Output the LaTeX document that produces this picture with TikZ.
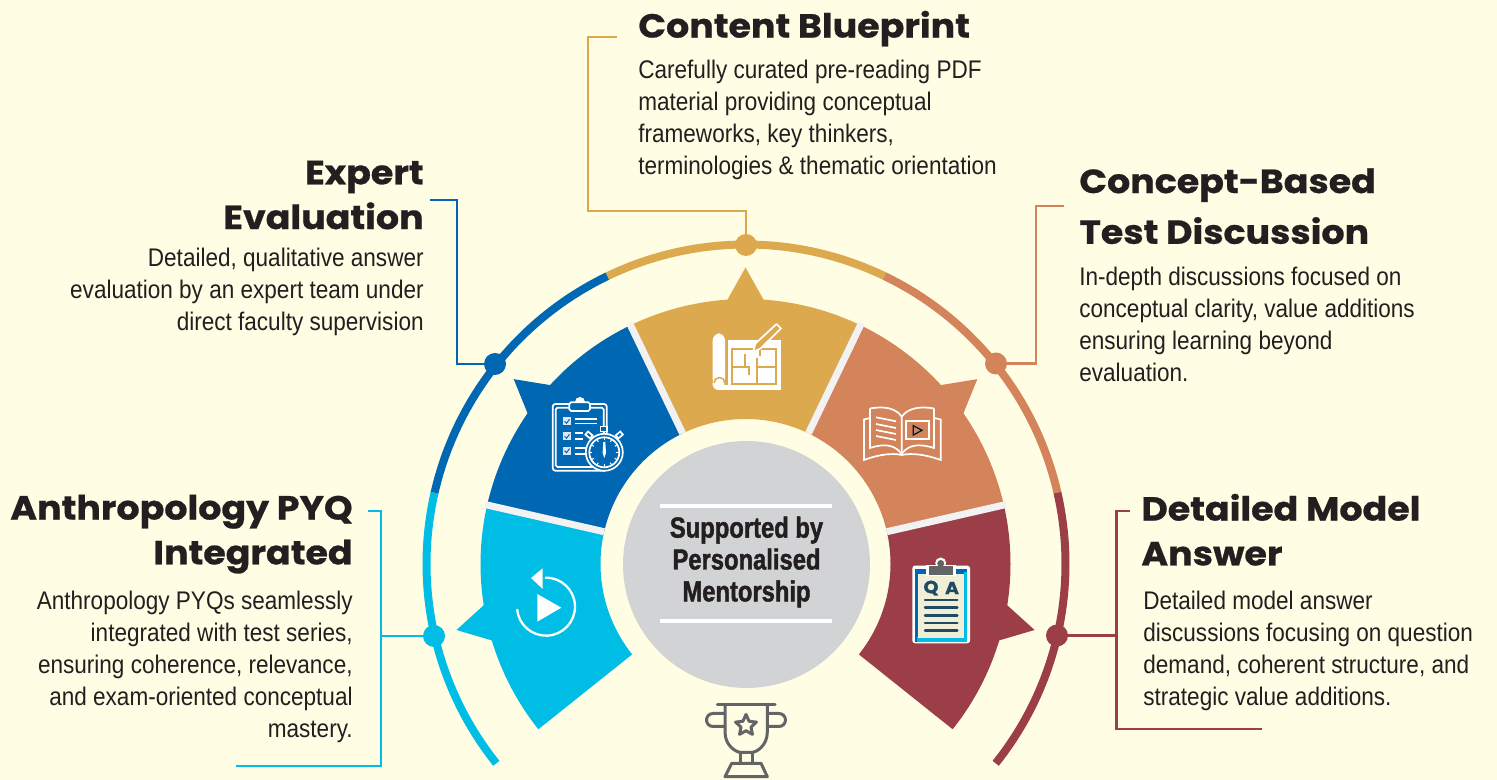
\documentclass[tikz,border=0pt]{standalone}
\usepackage{fontspec}
\setmainfont{Liberation Sans}[FakeStretch=0.885]
\newfontfamily\headfont{Poppins}[FakeStretch=1.09, BoldFeatures={FakeBold=0.7}]
\newfontfamily\discfont{Liberation Sans}[FakeStretch=0.82, BoldFeatures={FakeBold=1.5}]
\usetikzlibrary{positioning, shapes.geometric}
\definecolor{bgcream}{HTML}{FFFDE4}
\definecolor{ringcyan}{HTML}{00BDE6}
\definecolor{ringblue}{HTML}{0067B3}
\definecolor{ringgold}{HTML}{DDA94F}
\definecolor{ringorange}{HTML}{D4845B}
\definecolor{ringmaroon}{HTML}{9B3E48}
\definecolor{inktext}{HTML}{231F20}
\definecolor{discgrey}{HTML}{D1D3D4}
\definecolor{cupgrey}{HTML}{636466}
\definecolor{navyqa}{HTML}{1F4A63}
\tikzset{
    pxgrid/.style={shift={(0,780)},yscale=-1},
    heading/.style={font=\headfont\bfseries\fontsize{19}{25.5}\selectfont, text=inktext, inner sep=0pt},
    body/.style={font=\fontsize{14.5}{18.14}\selectfont, text=inktext, inner sep=0pt},
    dot/.style={circle, fill=#1, minimum size=0.44cm, inner sep=0pt},
    leader/.style={line width=0.05cm, draw=#1},
    icon_line/.style={line width=0.034cm, draw=white}
}
\begin{document}
\begin{tikzpicture}[x=0.02cm, y=0.02cm]
    \useasboundingbox (0,0) rectangle (1497,780);
    \fill[bgcream] (0,0) rectangle (1497,780);

    % --- Outer ring ---
    \begin{scope}[shift={(746,216)}]
        \foreach \from/\to/\col in {218.6/167.1/ringcyan, 167.1/115.7/ringblue, 115.7/64.3/ringgold, 64.3/12.9/ringorange, 12.9/-38.6/ringmaroon}
            \draw[line width=0.16cm, draw=\col] (\from:319.5) arc (\from:\to:319.5);
    \end{scope}

    % --- The seven-part petals ---
    \begin{scope}[shift={(745.5,216)}]
        \foreach \ang/\col in {192.86/ringcyan, 141.43/ringblue, 90/ringgold, 38.57/ringorange, -12.86/ringmaroon}{
            \pgfmathsetmacro\lo{\ang-25.72}
            \pgfmathsetmacro\hi{\ang+25.72}
            \pgfmathsetmacro\bl{\ang-3.9}
            \pgfmathsetmacro\br{\ang+3.9}
            \fill[\col] (\lo:145) -- (\lo:265) arc (\lo:\bl:265) -- (\ang:296.5) -- (\br:265) arc (\br:\hi:265) -- (\hi:145) arc (\hi:\lo:145) -- cycle;
        }
        \foreach \ang in {167.14, 115.71, 64.29, 12.86}
            \draw[line width=0.14cm, draw=black!5] (\ang:145) -- (\ang:267);
    \end{scope}

    \begin{scope}[pxgrid]
        % --- Centre disc ---
        \node (mentor) [circle, fill=discgrey, minimum size=4.94cm, inner sep=0pt] at (746.5,564.5) {};
        \draw[line width=0.08cm, white] (660,506) -- (832,506);
        \draw[line width=0.08cm, white] (660,621) -- (832,621);
        \node (mentor_text) [font=\discfont\bfseries\fontsize{16.5}{18.14}\selectfont, text=inktext, align=center, inner sep=0pt] at (746.5,562) {Supported by\\Personalised\\Mentorship};

        % --- Dots on the ring ---
        \node (dot_cyan)   [dot=ringcyan]   at (434,636) {};
        \node (dot_blue)   [dot=ringblue]   at (495,364) {};
        \node (dot_gold)   [dot=ringgold]   at (746,245) {};
        \node (dot_orange) [dot=ringorange] at (996,363.5) {};
        \node (dot_maroon) [dot=ringmaroon] at (1057,635.5) {};

        % --- Leaders ---
        \coordinate (cyan_a) at (368,511);
        \coordinate (cyan_b) at (236,766);
        \draw[leader=ringcyan] (cyan_a) -- (381,511) -- (381,766) -- (cyan_b);
        \draw[leader=ringcyan] (dot_cyan) -- (381,636);
        \coordinate (blue_a) at (430,200);
        \draw[leader=ringblue] (blue_a) -- (457,200) -- (457,364) -- (dot_blue);
        \coordinate (gold_a) at (617,37);
        \draw[leader=ringgold] (gold_a) -- (588,37) -- (588,211) -- (746,211) -- (dot_gold);
        \coordinate (orange_a) at (1064,206);
        \draw[leader=ringorange] (orange_a) -- (1036,206) -- (1036,363.5) -- (dot_orange);
        \coordinate (maroon_a) at (1130,511);
        \coordinate (maroon_b) at (1262,729);
        \draw[leader=ringmaroon] (maroon_a) -- (1116.5,511) -- (1116.5,729) -- (maroon_b);
        \draw[leader=ringmaroon] (dot_maroon) -- (1116.5,635.5);

        % --- Headings and descriptions ---
        \node (pyq_head) [heading, anchor=north east, align=right] at (353,494.5) {Anthropology PYQ\\Integrated};
        \node (pyq_body) [body, anchor=north east, align=right] at (353,591) {Anthropology PYQs seamlessly\\integrated with test series,\\ensuring coherence, relevance,\\and exam-oriented conceptual\\mastery.};

        \node (expert_head) [heading, anchor=north east, align=right] at (424,160.5) {Expert\\Evaluation};
        \node (expert_body) [body, anchor=north east, align=right] at (424,248) {Detailed, qualitative answer\\evaluation by an expert team under\\direct faculty supervision};

        \node (content_head) [heading, anchor=north west] at (638,10.5) {Content Blueprint};
        \node (content_body) [body, anchor=north west, align=left] at (638,60) {Carefully curated pre-reading PDF\\material providing conceptual\\frameworks, key thinkers,\\terminologies \& thematic orientation};

        \node (concept_head) [heading, anchor=north west, align=left, font=\headfont\bfseries\fontsize{19}{28.9}\selectfont] at (1079,168) {Concept-Based\\Test Discussion};
        \node (concept_body) [body, anchor=north west, align=left] at (1079,267) {In-depth discussions focused on\\conceptual clarity, value additions\\ensuring learning beyond\\evaluation.};

        \node (model_head) [heading, anchor=north west, align=left] at (1141,493.5) {Detailed Model\\Answer};
        \node (model_body) [body, anchor=north west, align=left] at (1143,591) {Detailed model answer\\discussions focusing on question\\demand, coherent structure, and\\strategic value additions.};

        % --- Replay icon ---
        \draw[line width=0.046cm, white] (545,577.7) arc (-92:175:29);
        \fill[white] (531,578) -- (542.7,568.3) -- (542.7,589) -- cycle;
        \fill[white] (537.3,594) -- (537.3,621.7) -- (561.3,607.7) -- cycle;

        % --- Clipboard and stopwatch icon ---
        \draw[icon_line, rounded corners=1.5pt] (552.7,404) rectangle (606.7,470.7);
        \draw[icon_line, rounded corners=1pt] (555.7,407.7) rectangle (603.7,467);
        \fill[white] (580,402) circle (5);
        \draw[icon_line, fill=ringblue, rounded corners=1pt] (569.3,402.3) rectangle (590,411);
        \foreach \yy in {421.3, 436.3, 450.7}{
            \fill[white!85!ringblue] (562.7,\yy-4) rectangle (570.7,\yy+4);
            \draw[ringblue, line width=0.02cm] (564.5,\yy) -- (566.5,\yy+2) -- (569.5,\yy-2);
        }
        \foreach \ya/\xb in {419/597, 423.5/597, 433/583, 439/583, 448/586, 454/586}
            \draw[icon_line] (575,\ya) -- (\xb,\ya);
        \draw[icon_line, fill=ringblue] (604.3,452.3) circle (18.5);
        \draw[icon_line] (604.3,452.3) circle (15);
        \foreach \ang in {0,30,...,330}
            \draw[white, line width=0.02cm] (604.3,452.3) ++(\ang:12) -- ++(\ang:2.5);
        \fill[white] (603.3,442) -- (605.3,442) -- (606,453) -- (604.3,458) -- (602.6,453) -- cycle;
        \draw[icon_line, fill=ringblue] (600.5,426.5) rectangle (607,431.5);
        \draw[icon_line] (603.7,431.5) -- (603.7,434);
        \draw[icon_line, fill=ringblue, rotate around={40:(589,435)}] (586,433) rectangle (592,437);
        \draw[icon_line, fill=ringblue, rotate around={-40:(619.3,435)}] (616.3,433) rectangle (622.3,437);

        % --- Blueprint icon ---
        \fill[white, rounded corners=4pt] (712.7,333.5) rectangle (725,386);
        \fill[white] (718.5,384) circle (6);
        \fill[white] (718.5,385) rectangle (780.7,390);
        \fill[white] (728.3,340) -- (780.7,340) -- (780.7,390) -- (728.3,390) -- cycle;
        \draw[ringgold, line width=0.03cm] (725,383) arc (0:-180:5.5);
        \draw[ringgold, line width=0.034cm] (732.3,349.3) rectangle (776,384.3);
        \draw[ringgold, line width=0.034cm] (733,366.7) -- (749,366.7) -- (749,375);
        \draw[ringgold, line width=0.034cm] (745,354) -- (745,366.7);
        \draw[ringgold, line width=0.034cm] (757,358) -- (757,384);
        \draw[ringgold, line width=0.034cm] (757,366.7) -- (776,366.7);
        \draw[ringgold, line width=0.034cm] (760,349) -- (760,356);
        \draw[icon_line, fill=ringgold, line join=round] (753,352) -- (755.5,343.5) -- (776.5,324) -- (781,328.5) -- (760.5,348.5) -- cycle;

        % --- Open book icon ---
        \draw[icon_line] (870,408.5) -- (870,448) .. controls (885,443) and (895,445) .. (901.7,454);
        \draw[icon_line] (934,408.5) -- (934,448) .. controls (918,443) and (908,445) .. (901.7,454);
        \draw[icon_line] (934,408.5) .. controls (920,406) and (908,408) .. (901.7,416.7) -- (901.7,454);
        \draw[icon_line] (870,408.5) .. controls (884,406) and (896,408) .. (901.7,416.7);
        \draw[icon_line] (870,418) -- (864,419.5) -- (864,460) .. controls (880,454) and (893,453) .. (901.7,455) .. controls (911,453) and (924,454) .. (940.7,460) -- (940.7,419.5) -- (934,418);
        \foreach \ya in {417.3, 424, 430, 436}
            \draw[icon_line] (876,\ya) -- (896,\ya+4);
        \draw[icon_line] (906,421) rectangle (929,439.3);
        \draw[line width=0.025cm, draw=black!75!ringblue] (913.3,425.7) -- (913.3,435) -- (922,430.3) -- cycle;

        % --- Q and A clipboard icon ---
        \fill[white, rounded corners=1.5pt] (912.3,565.7) rectangle (970,643.3);
        \fill[ringblue] (915,569) rectangle (967.3,641.7);
        \fill[ringcyan] (917,637) rectangle (967.3,641.7);
        \fill[ringcyan] (964,572) rectangle (967.3,641.7);
        \fill[black!6!bgcream] (918.3,574) rectangle (964,638.3);
        \fill[white] (940.7,563) circle (5.5);
        \fill[white] (926,565) rectangle (955.5,576);
        \fill[cupgrey] (940.7,563.5) circle (3.5);
        \fill[cupgrey] (928.7,566) rectangle (953.3,575);
        \node (qa_q) [font=\headfont\bfseries\fontsize{10}{10}\selectfont, text=navyqa, inner sep=0pt] at (931,588) {Q};
        \node (qa_a) [font=\headfont\bfseries\fontsize{10}{10}\selectfont, text=navyqa, inner sep=0pt] at (952,588) {A};
        \foreach \ya in {600, 607.7, 615.3, 623, 630.7}
            \draw[navyqa, line width=0.05cm, line cap=round] (925,\ya) -- (957.3,\ya);

        % --- Trophy icon ---
        \begin{scope}[cupgrey, line width=0.06cm, line join=round, line cap=round]
            \draw (717.3,705) -- (775,705);
            \draw (725,705) -- (725,732) .. controls (725,745) and (735,752) .. (741,752.5) -- (751.5,752.5) .. controls (757.5,752) and (767.3,745) .. (767.3,732) -- (767.3,705);
            \draw (724,713.5) -- (713,713.5) arc (270:90:6.5) -- (724,726.5);
            \draw (768,713.5) -- (779,713.5) arc (-90:90:6.5) -- (768,726.5);
            \draw (740,752.5) -- (740,763.3);
            \draw (752.7,752.5) -- (752.7,763.3);
            \draw (731.7,763.3) -- (761,763.3) -- (767.3,776.7) -- (725,776.7) -- cycle;
        \end{scope}
        \node (cup_star) [star, star points=5, star point ratio=2.1, draw=cupgrey, line width=0.06cm, line join=round, minimum size=0.44cm, inner sep=0pt] at (746,725.5) {};
    \end{scope}
\end{tikzpicture}
\end{document}
